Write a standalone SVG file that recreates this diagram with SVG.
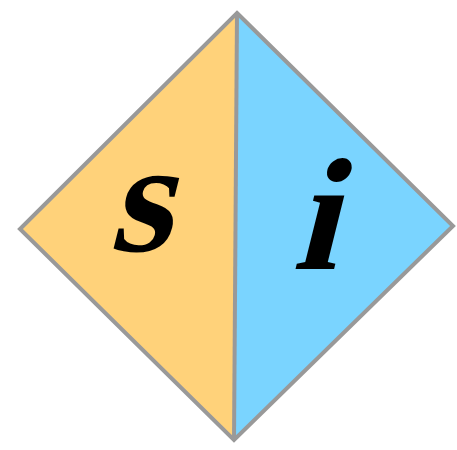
<svg xmlns="http://www.w3.org/2000/svg" width="457" height="450" viewBox="0 0 457 450">
<style>
.edge{stroke:#999;stroke-width:4;stroke-linejoin:miter;fill:none}
.lbl{font-family:"Liberation Serif","Times New Roman",serif;font-weight:bold;font-size:160px;fill:#000}
</style>
<rect width="457" height="450" fill="#fff"/>
<g id="left">
<polygon points="237,13 20,229 234,440" fill="#FFD27A"/>
<text class="lbl" transform="translate(108,251) skewX(-14)">s</text>
</g>
<g id="right">
<polygon points="237,13 453,226 234,440" fill="#7AD4FF"/>
<text class="lbl" transform="translate(292,269) skewX(-14)">i</text>
</g>
<g id="connectors">
<polygon class="edge" points="237,13 453,226 234,440 20,229"/>
<line class="edge" x1="237" y1="13" x2="234" y2="440"/>
</g>
</svg>
